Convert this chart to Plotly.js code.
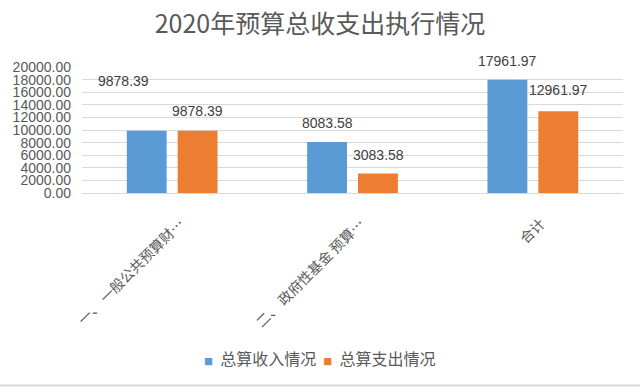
<!DOCTYPE html>
<html>
<head>
<meta charset="utf-8">
<script src="https://cdn.plot.ly/plotly-3.0.1.min.js"></script>
<style>html,body{margin:0;padding:0;background:#fff;}#chart{width:640px;height:387px;}</style>
</head>
<body>
<div id="chart"></div>
<script>
const categories = ["一、 一般公共预算财…", "二、 政府性基金 预算…", "合计"];
const incomeValues = [9878.39, 8083.58, 17961.97];
const expenseValues = [9878.39, 3083.58, 12961.97];
const seriesNames = ["总算收入情况", "总算支出情况"];
const seriesColors = ["#5B9BD5", "#ED7D31"];
const yTickValues = [0, 2000, 4000, 6000, 8000, 10000, 12000, 14000, 16000, 18000, 20000];

const cjk = '"Noto Sans CJK SC", "Liberation Sans", sans-serif';
const num = '"Liberation Sans", Arial, sans-serif';

const slotShift = 25.5;
const labelShift = {
  income: [[-23.5, 50], [0, 19], [0, 19]],
  expense: [[0, 20], [0, 19], [0, 21]]
};

const traces = [
  {type: 'bar', name: seriesNames[0], x: categories, y: incomeValues, marker: {color: seriesColors[0]}, hoverinfo: 'y'},
  {type: 'bar', name: seriesNames[1], x: categories, y: expenseValues, marker: {color: seriesColors[1]}, hoverinfo: 'y'}
];

const annotations = [];
categories.forEach((c, i) => {
  annotations.push({x: c, y: incomeValues[i], xref: 'x', yref: 'y', text: incomeValues[i].toFixed(2),
    showarrow: false, xshift: -slotShift + labelShift.income[i][0], yshift: labelShift.income[i][1],
    yanchor: 'middle', xanchor: 'center', font: {family: num, size: 14, color: '#404040'}});
  annotations.push({x: c, y: expenseValues[i], xref: 'x', yref: 'y', text: expenseValues[i].toFixed(2),
    showarrow: false, xshift: slotShift + labelShift.expense[i][0], yshift: labelShift.expense[i][1],
    yanchor: 'middle', xanchor: 'center', font: {family: num, size: 14, color: '#404040'}});
});

// legend drawn as a text line: coloured square + series name
const sp = '\u00A0\u00A0';
const legendText = seriesNames.map((n, i) =>
  '<span style="color:' + seriesColors[i] + ';font-size:9px">■</span>' + sp + n).join(sp);
annotations.push({xref: 'paper', yref: 'paper', x: (320 - 82) / 541, y: -(358 - 193) / 126,
  xanchor: 'center', yanchor: 'middle', showarrow: false, text: legendText,
  font: {family: cjk, size: 16, color: '#595959'}});

const layout = {
  width: 640, height: 387,
  margin: {l: 82, r: 17, t: 67, b: 194, pad: 0},
  paper_bgcolor: '#fff', plot_bgcolor: '#fff',
  title: {text: '2020年预算总收支出执行情况', font: {family: cjk, size: 25, color: '#595959'},
    x: 0.5, xref: 'container', y: 1 - 24 / 387, yref: 'container', yanchor: 'middle', xanchor: 'center'},
  barmode: 'group', bargap: 0.436, bargroupgap: 0.216,
  xaxis: {type: 'category', tickangle: -45, tickfont: {family: cjk, size: 14, color: '#595959'},
    showgrid: false, showline: true, linecolor: '#d9d9d9', linewidth: 1, ticks: '', automargin: false,
    ticklabelstandoff: 16, ticklabelshift: 8},
  yaxis: {range: [0, 20000], tickvals: yTickValues, ticktext: yTickValues.map(v => v.toFixed(2)),
    tickfont: {family: num, size: 14, color: '#595959'}, showgrid: true, gridcolor: '#d9d9d9', gridwidth: 1,
    zeroline: false, showline: false, ticks: '', ticklen: 0, automargin: false, fixedrange: true, ticklabelstandoff: 10},
  shapes: [{type: 'line', xref: 'paper', yref: 'paper', x0: -82 / 541, x1: 558 / 541,
    y0: -(385.5 - 193) / 126, y1: -(385.5 - 193) / 126, line: {color: '#d9d9d9', width: 2}}],
  annotations: annotations,
  showlegend: false
};

Plotly.newPlot('chart', traces, layout, {displayModeBar: false, staticPlot: true});
</script>
</body>
</html>
